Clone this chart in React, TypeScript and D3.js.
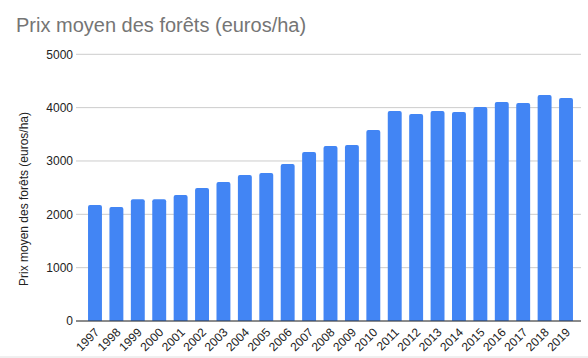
import React from "react";
import * as d3 from "d3";

const years = ["1997","1998","1999","2000","2001","2002","2003","2004","2005","2006","2007","2008","2009","2010","2011","2012","2013","2014","2015","2016","2017","2018","2019"];
const prices = [2175,2137,2281,2281,2362,2494,2606,2737,2775,2944,3169,3281,3300,3581,3937,3881,3937,3919,4012,4106,4087,4237,4181];
const yTicks = [0,1000,2000,3000,4000,5000];
const title = "Prix moyen des forêts (euros/ha)";
const yTitle = "Prix moyen des forêts (euros/ha)";

const W = 588, H = 358;
const FONT = "'Liberation Sans', Arial, sans-serif";

export default function App() {
  const x = d3.scaleBand<string>().domain(years).range([80, 581]).paddingInner(0.35).paddingOuter(0.375);
  const y = d3.scaleLinear().domain([0, 5000]).range([321, 54.3]);
  const bw = x.bandwidth();
  const r = 2;
  const barPath = (x0: number, y0: number, w: number, h: number) => {
    const p = d3.path();
    p.moveTo(x0, y0 + h);
    p.lineTo(x0, y0 + r);
    p.quadraticCurveTo(x0, y0, x0 + r, y0);
    p.lineTo(x0 + w - r, y0);
    p.quadraticCurveTo(x0 + w, y0, x0 + w, y0 + r);
    p.lineTo(x0 + w, y0 + h);
    p.closePath();
    return p.toString();
  };
  return (
    <svg width={W} height={H} style={{ position: "absolute", left: 0, top: 0, background: "#fff" }} fontFamily={FONT}>
      <rect x={0} y={0} width={W} height={H} fill="#fff" />
      <text x={16} y={31.5} fontSize={20} fill="#757575">{title}</text>
      {yTicks.map((t) => (
        <g key={t}>
          <line x1={76} x2={581} y1={y(t)} y2={y(t)} stroke="#cccccc" strokeWidth={1} />
          <text x={73} y={y(t)} dy="0.35em" textAnchor="end" fontSize={12} fill="#222">{t}</text>
        </g>
      ))}
      {years.map((yr, i) => (
        <path key={yr} d={barPath(x(yr)!, y(prices[i]), bw, y(0) - y(prices[i]))} fill="#4285f4" />
      ))}
      <line x1={76} x2={581} y1={y(0)} y2={y(0)} stroke="#333" strokeWidth={1} />
      {years.map((yr) => (
        <text key={yr} transform={`translate(${x(yr)! + bw / 2 + 5},${333}) rotate(-45)`} textAnchor="end" fontSize={12} fill="#222">{yr}</text>
      ))}
      <text transform={`translate(28,199) rotate(-90)`} textAnchor="middle" fontSize={12} fill="#222">{yTitle}</text>
      <line x1={0} x2={W} y1={357} y2={357} stroke="#e0e0e0" strokeWidth={1} />
    </svg>
  );
}
